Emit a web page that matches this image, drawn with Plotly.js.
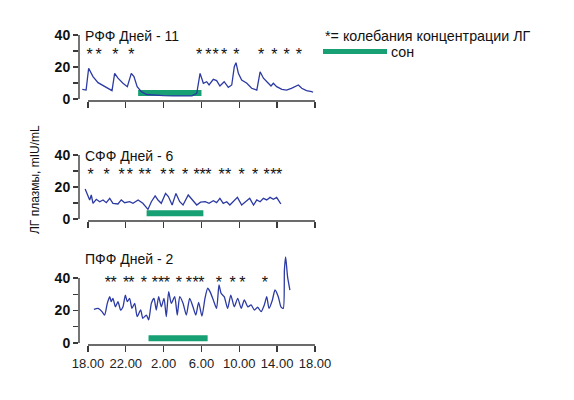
<!DOCTYPE html>
<html>
<head>
<meta charset="utf-8">
<script src="https://cdn.plot.ly/plotly-3.0.1.min.js"></script>
<style>html,body{margin:0;padding:0;background:#fff;}#chart{width:574px;height:400px;}</style>
</head>
<body>
<div id="chart"></div>
<script>
// ---- data (hours after 18.00) ----
var panelTitles = ["РФФ Дней - 11", "СФФ Дней - 6", "ПФФ Дней - 2"];
var xTickVals = [0, 4, 8, 12, 16, 20, 24];
var xTickText = ["18.00", "22.00", "2.00", "6.00", "10.00", "14.00", "18.00"];
var yTickVals = [0, 10, 20, 30, 40];
var yTickText = ["0", "", "20", "", "40"];

var rffT = [-0.6, -0.2, 0.07, 0.53, 1.06, 1.76, 2.3, 2.54, 2.82, 3.17, 3.7, 4.16, 4.58, 4.86, 5.2, 5.64, 6.2, 7.0, 8.0, 9.0, 10.0, 11.0, 11.5, 11.85, 12.2, 12.55, 12.8, 13.25, 13.6, 13.95, 14.4, 14.84, 15.2, 15.47, 15.65, 15.9, 16.25, 16.8, 17.3, 17.85, 18.2, 18.55, 19.07, 19.35, 19.6, 19.95, 20.5, 21.0, 21.5, 21.9, 22.25, 22.6, 23.1, 23.65, 23.8];
var rffV = [6, 5.6, 19.2, 14, 10.2, 7.7, 6, 5.2, 16, 13, 9.8, 7.7, 16, 14, 7.7, 4.6, 2.8, 2.4, 2.1, 1.9, 1.8, 2.0, 3.5, 16, 9.8, 10.8, 8.75, 12.3, 11.5, 8.1, 10.8, 7.3, 8.75, 20.2, 22.7, 16, 11.9, 9.8, 6.7, 5.6, 17, 13, 9.8, 8.1, 9.8, 7.7, 6, 5.6, 6.7, 7.7, 8.75, 6.7, 5.2, 4.6, 4.2];

var sffT = [-0.3, 0.18, 0.35, 0.53, 0.88, 1.24, 1.59, 1.94, 2.3, 2.64, 3.17, 3.52, 3.88, 4.4, 4.76, 5.3, 5.8, 6.34, 6.7, 7.1, 7.4, 7.75, 8.2, 8.5, 8.9, 9.3, 9.7, 10.05, 10.6, 11.0, 11.5, 11.9, 12.4, 12.8, 13.25, 13.6, 13.95, 14.3, 14.67, 15.0, 15.5, 15.8, 16.25, 16.7, 17.1, 17.5, 17.85, 18.2, 18.55, 18.9, 19.25, 19.6, 19.95, 20.3, 20.4];
var sffV = [18.8, 11.9, 15, 9.8, 12.3, 10.8, 11.9, 10.2, 12.9, 9.8, 9.4, 11.9, 10.2, 10.8, 9.8, 11.9, 9.8, 6, 10.8, 14.4, 11.9, 9.8, 16, 14, 8.75, 16, 10.8, 8.75, 15, 11.9, 8.75, 10.5, 10.8, 9.8, 11.4, 10.2, 12.9, 9.8, 10.8, 8.75, 11.9, 13.5, 8.75, 10.8, 12.9, 8.75, 11.9, 10.8, 12.9, 11.9, 13.5, 12.3, 13.5, 10.2, 9.4];

var pffT = [0.63, 1.06, 1.48, 1.76, 2.04, 2.3, 2.46, 2.64, 2.9, 3.17, 3.45, 3.7, 3.95, 4.16, 4.4, 4.65, 4.94, 5.2, 5.57, 5.8, 6.17, 6.42, 6.7, 6.98, 7.22, 7.47, 7.75, 8.04, 8.28, 8.53, 8.81, 9.17, 9.44, 9.7, 10.05, 10.4, 10.75, 11.1, 11.4, 11.7, 12.05, 12.37, 12.66, 12.9, 13.25, 13.6, 13.85, 14.07, 14.4, 14.77, 15.1, 15.47, 15.83, 16.2, 16.53, 16.9, 17.24, 17.6, 17.94, 18.3, 18.64, 18.9, 19.14, 19.5, 19.77, 20.12, 20.4, 20.65, 20.77, 20.9, 21.1, 21.35];
var pffV = [20.7, 21.3, 19.3, 17.2, 24.4, 28.5, 25.4, 27.5, 22.3, 25.4, 20.3, 22.3, 29.5, 25.4, 27.5, 21.3, 24.4, 16.2, 20.3, 15.2, 17.2, 14.2, 24.4, 27.5, 20.3, 28.5, 22.3, 27.5, 16.2, 31.6, 24.4, 28.5, 17.2, 28.5, 24.4, 17.2, 27.5, 22.3, 17.2, 25, 16.5, 27.5, 33.7, 31.6, 26.5, 21.3, 35.7, 30.6, 28.5, 21.3, 29.5, 22.3, 27.5, 21.3, 26.5, 22.3, 23.4, 20.3, 22, 19.3, 23.4, 28.5, 21.3, 26.5, 32.6, 28.5, 22.3, 21.3, 45, 53, 40.8, 32.6];

// LH pulse times (asterisks)
var rffPulses = [0.18, 1.13, 2.9, 4.58, 11.74, 12.72, 13.5, 14.4, 15.7, 18.3, 19.7, 21.0, 22.3];
var sffPulses = [0.28, 1.97, 3.56, 4.44, 5.67, 6.37, 7.96, 8.85, 10.26, 11.49, 12.12, 12.72, 14.13, 14.83, 16.25, 17.66, 18.9, 19.6, 20.2];
var pffPulses = [2.11, 2.7, 4.02, 4.6, 5.92, 7.08, 7.72, 8.35, 9.62, 10.68, 11.37, 12.0, 13.85, 15.28, 16.33, 18.71];

// sleep intervals
var sleepStart = [5.3, 6.2, 6.4];
var sleepEnd = [12.0, 12.2, 12.65];

// ---- drawing ----
var FONT = "Liberation Sans, Arial, sans-serif";
var LINE = "#2c3aa3";
var GREEN = "#17a073";
var AX = "#3a3a3a";

var series = [[rffT, rffV], [sffT, sffV], [pffT, pffV]];
var pulses = [rffPulses, sffPulses, pffPulses];
var starY = [26.9, 26.9, 36.6];
var sleepY = [3.7, 3.6, 2.9];
var yRanges = [[-1.25, 41.25], [-1.25, 41.25], [-1.23, 54.15]];
var yDomains = [[0.7475, 0.9175], [0.4475, 0.6175], [0.1375, 0.3625]];
var xDomain = [79 / 574, 318 / 574];
var xRange = [-0.95, 24.32];

var traces = [];
var shapes = [];
var annotations = [];
var layout = {
  width: 574, height: 400,
  margin: {l: 0, r: 0, t: 0, b: 0},
  paper_bgcolor: "#fff", plot_bgcolor: "#fff",
  showlegend: false,
  font: {family: FONT, color: "#111"}
};

for (var i = 0; i < 3; i++) {
  var sfx = i === 0 ? "" : String(i + 1);
  var xa = "x" + sfx, ya = "y" + sfx;
  traces.push({
    x: [sleepStart[i], sleepEnd[i]], y: [sleepY[i], sleepY[i]],
    xaxis: xa, yaxis: ya, mode: "lines",
    line: {color: GREEN, width: 6}, hoverinfo: "skip"
  });
  traces.push({
    x: series[i][0], y: series[i][1], xaxis: xa, yaxis: ya,
    mode: "lines", line: {color: LINE, width: 1.3, shape: i === 2 ? "spline" : "linear", smoothing: 0.6}
  });
  traces.push({
    x: pulses[i], y: pulses[i].map(function () { return starY[i]; }),
    xaxis: xa, yaxis: ya, mode: "text",
    text: pulses[i].map(function () { return "*"; }),
    textposition: "middle center",
    textfont: {family: FONT, size: 16, color: "#111"}, hoverinfo: "skip"
  });
  layout["xaxis" + sfx] = {
    domain: xDomain, range: xRange, anchor: ya,
    showline: false, showgrid: false, zeroline: false,
    tickmode: "array", tickvals: xTickVals,
    ticktext: i === 2 ? xTickText : xTickVals.map(function () { return ""; }),
    ticks: "outside", ticklen: 6, tickwidth: 1.3, tickcolor: AX,
    tickfont: {family: FONT, size: 13, color: "#222"},
    fixedrange: true
  };
  layout["yaxis" + sfx] = {
    domain: yDomains[i], range: yRanges[i], anchor: xa,
    showline: false, showgrid: false, zeroline: false,
    tickmode: "array", tickvals: yTickVals, ticktext: yTickText,
    ticks: "outside", ticklen: 5, tickwidth: 1.3, tickcolor: AX,
    tickfont: {family: FONT, size: 14, color: "#111", weight: "bold"},
    fixedrange: true
  };
  shapes.push({type: "line", xref: xa + " domain", yref: ya, x0: 0, x1: 0, y0: 0, y1: 40,
    line: {color: AX, width: 1.4}});
  shapes.push({type: "line", xref: xa, yref: ya + " domain", x0: 0, x1: 24, y0: 0, y1: 0,
    line: {color: AX, width: 1.4}});
}

var titleY = [36, 156, 259];
for (var j = 0; j < 3; j++) {
  annotations.push({
    text: panelTitles[j], xref: "paper", yref: "paper",
    x: 83 / 574, y: 1 - titleY[j] / 400, xanchor: "left", yanchor: "middle",
    showarrow: false, font: {family: FONT, size: 14, color: "#111"}
  });
}
annotations.push({
  text: "*= колебания концентрации ЛГ", xref: "paper", yref: "paper",
  x: 323 / 574, y: 1 - 36 / 400, xanchor: "left", yanchor: "middle",
  showarrow: false, font: {family: FONT, size: 14.3, color: "#111"}
});
annotations.push({
  text: "сон", xref: "paper", yref: "paper",
  x: 389 / 574, y: 1 - 52 / 400, xanchor: "left", yanchor: "middle",
  showarrow: false, font: {family: FONT, size: 14.3, color: "#111"}
});
shapes.push({type: "line", xref: "paper", yref: "paper",
  x0: 323 / 574, x1: 387 / 574, y0: 1 - 51.5 / 400, y1: 1 - 51.5 / 400,
  line: {color: GREEN, width: 5}});
annotations.push({
  text: "ЛГ плазмы, mIU/mL", xref: "paper", yref: "paper",
  x: 35 / 574, y: 1 - 180 / 400, xanchor: "center", yanchor: "middle",
  textangle: -90, showarrow: false, font: {family: FONT, size: 12, color: "#111"}
});

layout.shapes = shapes;
layout.annotations = annotations;

Plotly.newPlot("chart", traces, layout, {staticPlot: true, displayModeBar: false});
</script>
</body>
</html>
